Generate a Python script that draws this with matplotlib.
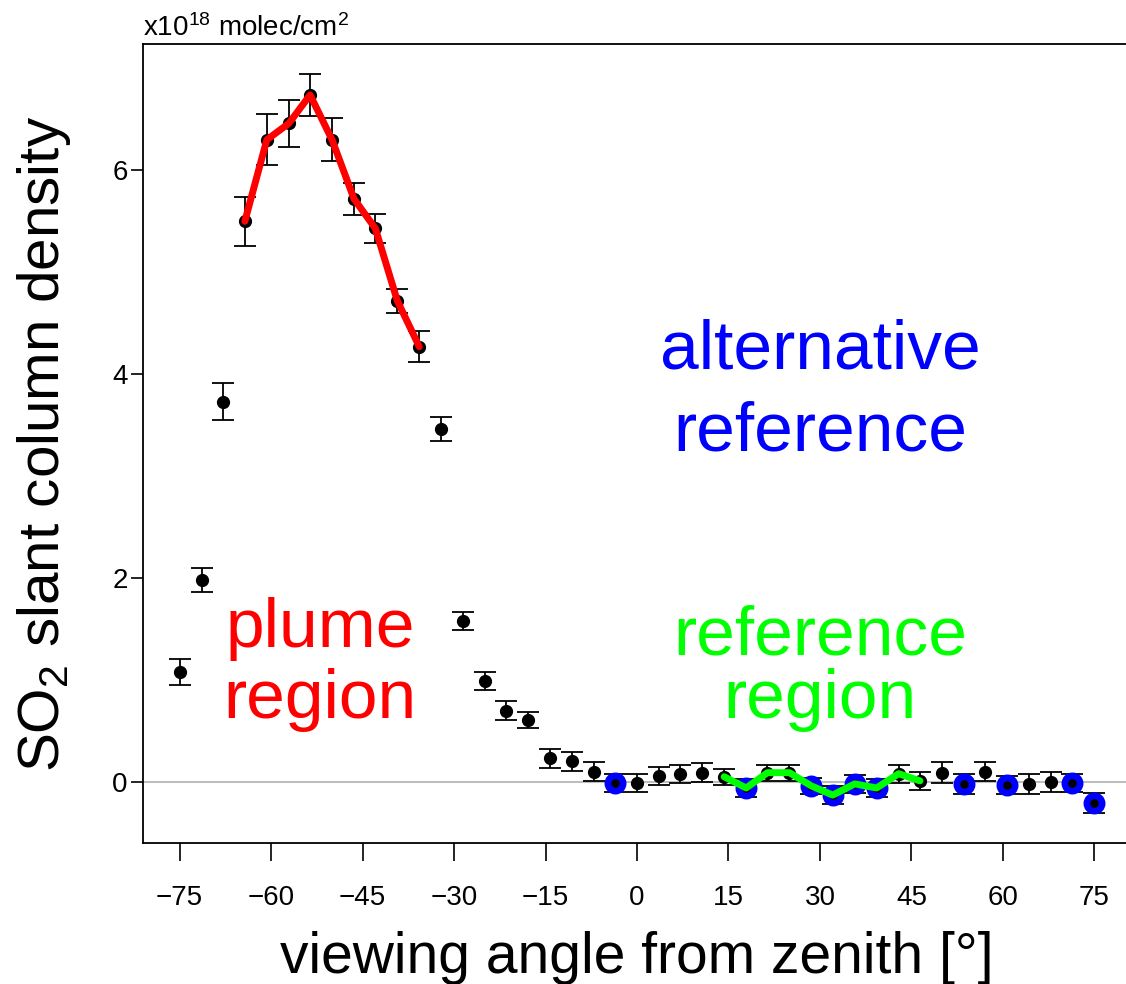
import numpy as np
import matplotlib
matplotlib.use("Agg")
import matplotlib.pyplot as plt

plt.rcParams['font.family'] = ['Liberation Sans', 'DejaVu Sans']
plt.rcParams['mathtext.fontset'] = 'custom'
plt.rcParams['mathtext.rm'] = 'Liberation Sans'
plt.rcParams['mathtext.it'] = 'Liberation Sans:italic'

# viewing angles of the scan [deg]
angle = [-75, -71.4, -67.9, -64.3, -60.7, -57.1, -53.6, -50, -46.4, -42.9,
         -39.3, -35.7, -32.1, -28.6, -25, -21.4, -17.9, -14.3, -10.7, -7.1,
         -3.6, 0, 3.6, 7.1, 10.7, 14.3, 17.9, 21.4, 25, 28.6,
         32.1, 35.7, 39.3, 42.9, 46.4, 50, 53.6, 57.1, 60.7, 64.3,
         67.9, 71.4, 75]
# SO2 SCD in 1e18 molec/cm2 and its fit error
scd = [1.08, 1.98, 3.73, 5.50, 6.30, 6.46, 6.74, 6.30, 5.72, 5.43,
       4.72, 4.27, 3.46, 1.58, 0.99, 0.70, 0.61, 0.23, 0.20, 0.10,
       -0.01, -0.01, 0.06, 0.08, 0.09, 0.05, -0.06, 0.09, 0.09, -0.04,
       -0.13, -0.02, -0.06, 0.08, 0.01, 0.09, -0.02, 0.10, -0.03, -0.02,
       0.00, -0.01, -0.21]
err = [0.13, 0.12, 0.18, 0.24, 0.25, 0.23, 0.21, 0.21, 0.16, 0.14,
       0.12, 0.15, 0.12, 0.09, 0.09, 0.09, 0.08, 0.09, 0.09, 0.09,
       0.09, 0.09, 0.09, 0.09, 0.09, 0.08, 0.09, 0.08, 0.08, 0.08,
       0.09, 0.09, 0.09, 0.09, 0.09, 0.10, 0.10, 0.09, 0.09, 0.10,
       0.10, 0.09, 0.10]

# spectra used as alternative reference
alt_ref_angles = [-3.6, 17.9, 28.6, 32.1, 35.7, 39.3, 53.6, 60.7, 71.4, 75]
# index ranges of the plume and reference regions
PLUME_IDX = (3, 12)
REF_IDX = (25, 35)

angle = np.array(angle)
scd = np.array(scd)
err = np.array(err)

fig = plt.figure(figsize=(11.26, 9.84), dpi=100)
ax = fig.add_axes([0.1270, 0.1433, 0.8774, 0.8120])
ax.set_xlim(-81, 81)
ax.set_ylim(-0.6, 7.24)

ax.axhline(0, color='#BEBEBE', lw=1.5, zorder=1)

ax.errorbar(angle, scd, yerr=err, fmt='none', ecolor='black', elinewidth=1.3,
            capsize=8, capthick=1.3, zorder=2)
ax.plot(angle, scd, 'o', color='black', ms=8.5, zorder=3)

alt_mask = np.isin(angle, alt_ref_angles)
ax.plot(angle[alt_mask], scd[alt_mask], 'o', mfc='none', mec='#0000FF',
        ms=11, mew=4.8, zorder=4)

p0, p1 = PLUME_IDX
ax.plot(angle[p0:p1], scd[p0:p1], color='#FF0000', lw=5, zorder=5,
        solid_joinstyle='round', solid_capstyle='round')
r0, r1 = REF_IDX
ax.plot(angle[r0:r1], scd[r0:r1], color='#00FF00', lw=5, zorder=5,
        solid_joinstyle='round', solid_capstyle='round')

# region annotations
ax.text(-52.0, 1.32, "plume", color='#FF0000', fontsize=50, ha='center', va='baseline')
ax.text(-52.0, 0.63, "region", color='#FF0000', fontsize=50, ha='center', va='baseline')
ax.text(30.0, 4.06, "alternative", color='#0000FF', fontsize=50, ha='center', va='baseline')
ax.text(30.0, 3.25, "reference", color='#0000FF', fontsize=50, ha='center', va='baseline')
ax.text(30.0, 1.25, "reference", color='#00FF00', fontsize=50, ha='center', va='baseline')
ax.text(30.0, 0.63, "region", color='#00FF00', fontsize=50, ha='center', va='baseline')

ax.set_xticks(np.arange(-75, 76, 15))
ax.set_yticks([0, 2, 4, 6])
ax.tick_params(axis='both', direction='out', width=1.2, labelsize=20)
ax.tick_params(axis='x', length=13, pad=17)
ax.tick_params(axis='y', length=9, pad=2)
for s in ax.spines.values():
    s.set_linewidth(1.3)

ax.set_xlabel("viewing angle from zenith [°]", fontsize=41, labelpad=15)
ax.set_ylabel(r"SO$_2$ slant column density", fontsize=42, labelpad=28)

fig.text(0.127, 0.963, r"x10$^{18}$ molec/cm$^2$", fontsize=20, ha='left', va='baseline')

fig.savefig("out.png", dpi=100)
